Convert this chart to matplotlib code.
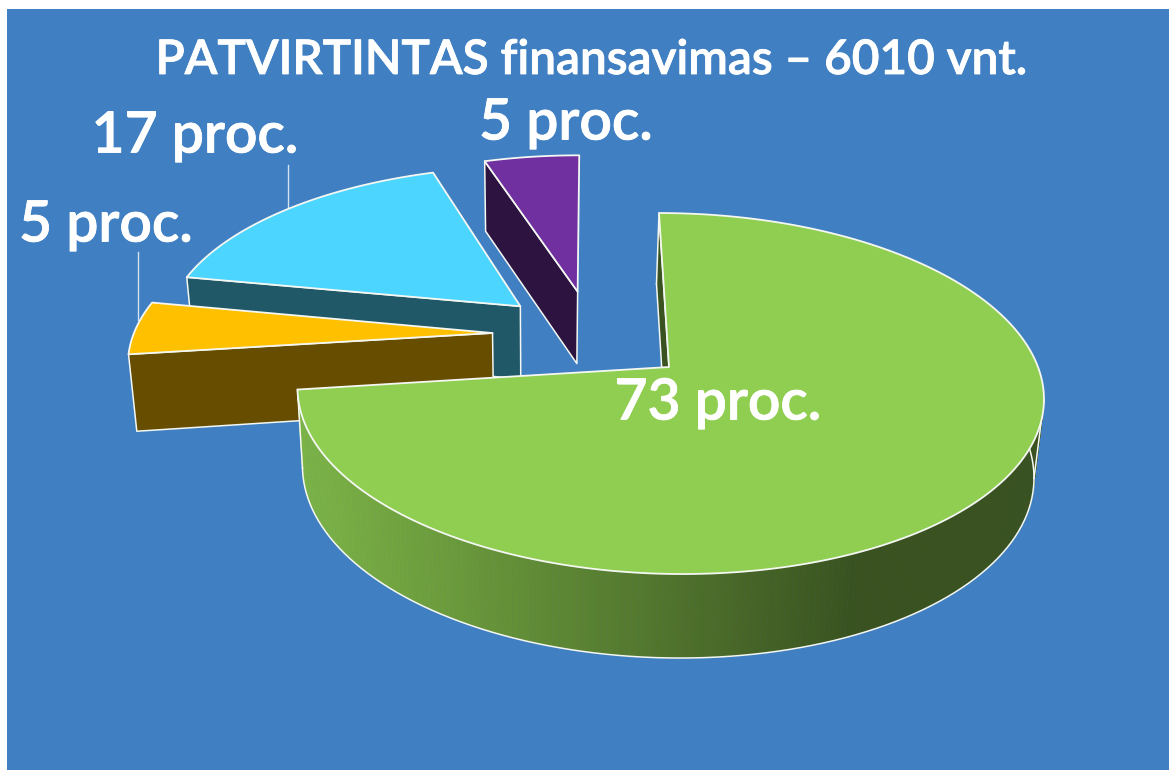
import numpy as np
import matplotlib
matplotlib.use("Agg")
import matplotlib.pyplot as plt
import matplotlib.patheffects as pe
from matplotlib.patches import Polygon, Rectangle
from matplotlib.colors import to_rgb

title = "PATVIRTINTAS finansavimas – 6010 vnt."
values = [73, 5, 17, 5]
top_colors = ["#8FCE50", "#FFC000", "#4CD5FF", "#7030A0"]
wall_colors = ["#3A5220", "#664D00", "#205868", "#2C1340"]
offsets = [(0.0, 0.0), (-0.486, 0.198), (-0.413, 0.362), (-0.250, 0.455)]
label_pos = [(718, 403), (106, 225), (195, 136), (566, 123)]
leaders = [None, (138, 252, 320), (288, 165, 207), None]

BG = "#3F7FC2"
EDGE = "#F4F7F2"
cx, cy, rx, ry, p, kx, shrink, shift = 669, 367, 369, 176.6, 0.147, 0.065, 0.98, -2.5

fig = plt.figure(figsize=(11.69, 7.70), dpi=100)
ax = fig.add_axes([0, 0, 1, 1])
ax.set_xlim(0, 1169)
ax.set_ylim(770, 0)
ax.axis("off")
ax.add_patch(Rectangle((7, 9), 1162, 761, fc=BG, ec="none"))


def proj(X, Y, bottom=False):
    X, Y = np.asarray(X, float), np.asarray(Y, float)
    w = 1 + p * Y
    dy = ry * Y / w
    sx = cx + rx * X * (shrink if bottom else 1) / w - kx * dy + (shift if bottom else 0)
    d = np.interp(w, [0.853, 1.01, 1.06, 1.2], [84, 77, 72, 70])
    sy = cy - dy + (d if bottom else 0)
    return np.column_stack([sx, sy])


def poly(points, fc, ec="none", lw=0.0, z=1):
    ax.add_patch(Polygon(points, closed=True, fc=fc, ec=ec, lw=lw, joinstyle="round", zorder=z))


def draw_slice(start, end, offset, top, wall, gradient, z):
    ox, oy = offset
    n = max(int((end - start) * 1.2), 12)
    ang = np.radians(np.linspace(start, end, n))
    X, Y = np.sin(ang) + ox, np.cos(ang) + oy
    rim_t, rim_b = proj(X, Y), proj(X, Y, True)
    apex_t, apex_b = proj([ox], [oy])[0], proj([ox], [oy], True)[0]
    # rim strips (only the front of the main slice shows)
    if gradient:
        for i in range(n - 1):
            xm = (rim_b[i, 0] + rim_b[i + 1, 0]) / 2
            f = np.interp(xm, [300, 850], [0.88, 0.40])
            c = tuple(v * f for v in to_rgb(top))
            poly([rim_t[i], rim_t[i + 1], rim_b[i + 1], rim_b[i]], c, c, 0.4, z)
        ax.plot(rim_b[:, 0], rim_b[:, 1], color=EDGE, lw=1.1, zorder=z)
        for fn in (np.argmax, np.argmin):
            a, b = rim_t[fn(rim_t[:, 0])], rim_b[fn(rim_b[:, 0])]
            ax.plot([a[0], b[0]], [a[1], b[1]], color=EDGE, lw=1.1, zorder=z)
    # near radial wall
    poly([apex_t, rim_t[0], rim_b[0], apex_b], wall, EDGE, 1.1, z)
    # top face
    poly(np.vstack([apex_t, rim_t]), top, EDGE, 1.3, z)


ends = np.cumsum(values) / np.sum(values) * 360
starts = np.concatenate([[0], ends[:-1]])

for item in leaders:
    if item:
        ax.plot([item[0]] * 2, item[1:], color="#D5E2F0", lw=1.0, zorder=1.5)

for i in [3, 2, 1, 0]:
    draw_slice(starts[i], ends[i], offsets[i], top_colors[i], wall_colors[i], i == 0, 2)

font = dict(family=["Lato"], weight="semibold", color="white", ha="center", va="center", zorder=5)
stroke = [pe.withStroke(linewidth=0.6, foreground="white")]
ax.text(592, 60, title, fontsize=34.35, path_effects=stroke, **font)
for v, (x, y) in zip(values, label_pos):
    ax.text(x, y, f"{v} proc.", fontsize=41, path_effects=stroke, **font)

fig.savefig("out.png", dpi=100, facecolor="white")
